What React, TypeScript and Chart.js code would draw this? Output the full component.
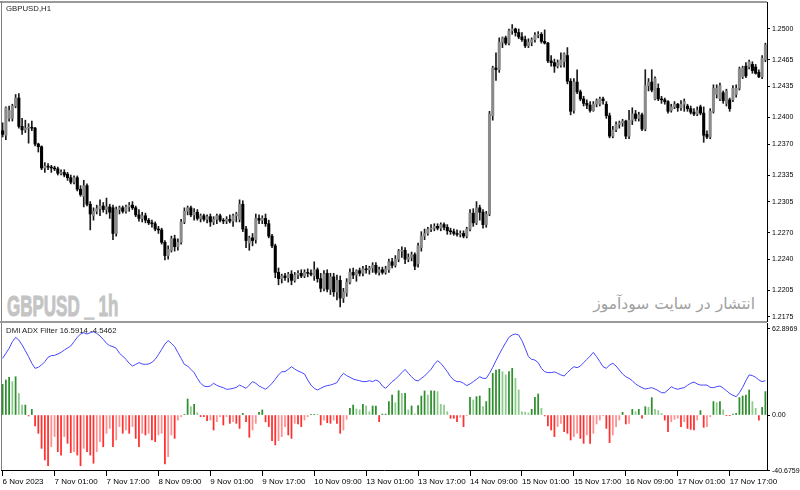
import React, { useEffect, useRef } from 'react';
import { Chart, registerables } from 'chart.js';
Chart.register(...registerables);

const tickLabels = ['6 Nov 2023', '7 Nov 01:00', '7 Nov 17:00', '8 Nov 09:00', '9 Nov 01:00', '9 Nov 17:00', '10 Nov 09:00', '13 Nov 01:00', '13 Nov 17:00', '14 Nov 09:00', '15 Nov 01:00', '15 Nov 17:00', '16 Nov 09:00', '17 Nov 01:00', '17 Nov 17:00'];
const priceTicks = [1.2175, 1.2205, 1.2240, 1.2270, 1.2305, 1.2335, 1.2370, 1.2400, 1.2435, 1.2465, 1.2500];
const dmiTicks = [-40.6759, 0, 62.8969];

const openP = [
  1.2385,1.2380,1.2399,1.2399,1.2413,1.2422,1.2390,1.2386,1.2388,1.2389,
  1.2388,1.2370,1.2367,1.2343,1.2345,1.2344,1.2343,1.2342,1.2337,1.2338,
  1.2336,1.2332,1.2327,1.2332,1.2319,1.2311,1.2323,1.2302,1.2289,1.2294,
  1.2297,1.2300,1.2296,1.2299,1.2298,1.2269,1.2296,1.2298,1.2294,1.2299,
  1.2301,1.2298,1.2290,1.2286,1.2289,1.2284,1.2281,1.2280,1.2274,1.2273,
  1.2259,1.2244,1.2250,1.2263,1.2254,1.2259,1.2282,1.2294,1.2298,1.2290,
  1.2293,1.2286,1.2289,1.2285,1.2288,1.2282,1.2285,1.2289,1.2284,1.2283,
  1.2285,1.2283,1.2289,1.2285,1.2302,1.2274,1.2258,1.2264,1.2262,1.2286,
  1.2284,1.2286,1.2280,1.2266,1.2255,1.2225,1.2218,1.2221,1.2219,1.2223,
  1.2216,1.2222,1.2224,1.2221,1.2225,1.2224,1.2221,1.2228,1.2218,1.2207,
  1.2224,1.2206,1.2220,1.2203,1.2216,1.2196,1.2202,1.2214,1.2225,1.2222,
  1.2227,1.2224,1.2229,1.2228,1.2230,1.2233,1.2225,1.2228,1.2225,1.2228,
  1.2237,1.2233,1.2240,1.2249,1.2250,1.2240,1.2242,1.2245,1.2235,1.2253,
  1.2266,1.2269,1.2274,1.2275,1.2277,1.2275,1.2279,1.2276,1.2272,1.2271,
  1.2269,1.2268,1.2269,1.2266,1.2274,1.2292,1.2281,1.2298,1.2293,1.2279,
  1.2291,1.2402,1.2456,1.2454,1.2485,1.2490,1.2484,1.2498,1.2500,1.2496,
  1.2491,1.2488,1.2481,1.2485,1.2488,1.2493,1.2494,1.2486,1.2484,1.2464,
  1.2462,1.2458,1.2459,1.2463,1.2470,1.2441,1.2408,1.2440,1.2429,1.2421,
  1.2416,1.2414,1.2408,1.2415,1.2415,1.2421,1.2415,1.2402,1.2379,1.2386,
  1.2392,1.2394,1.2396,1.2379,1.2397,1.2404,1.2399,1.2403,1.2387,1.2436,
  1.2440,1.2421,1.2433,1.2421,1.2420,1.2418,1.2408,1.2412,1.2415,1.2411,
  1.2415,1.2413,1.2410,1.2406,1.2404,1.2412,1.2405,1.2381,1.2378,1.2407,
  1.2426,1.2421,1.2428,1.2416,1.2420,1.2420,1.2426,1.2433,1.2446,1.2458,
  1.2457,1.2460,1.2457,1.2451,1.2446,1.2465
];
const highP = [
  1.2394,1.2412,1.2413,1.2415,1.2426,1.2427,1.2399,1.2397,1.2393,1.2396,
  1.2389,1.2371,1.2368,1.2349,1.2348,1.2346,1.2345,1.2344,1.2341,1.2341,
  1.2338,1.2335,1.2334,1.2334,1.2323,1.2329,1.2325,1.2305,1.2298,1.2301,
  1.2307,1.2304,1.2309,1.2302,1.2301,1.2299,1.2300,1.2300,1.2301,1.2304,
  1.2305,1.2300,1.2296,1.2293,1.2292,1.2286,1.2284,1.2282,1.2277,1.2275,
  1.2261,1.2255,1.2266,1.2267,1.2263,1.2285,1.2298,1.2300,1.2300,1.2297,
  1.2296,1.2291,1.2291,1.2290,1.2291,1.2288,1.2291,1.2291,1.2286,1.2288,
  1.2290,1.2291,1.2293,1.2307,1.2306,1.2277,1.2266,1.2269,1.2291,1.2290,
  1.2289,1.2291,1.2284,1.2268,1.2257,1.2230,1.2223,1.2224,1.2225,1.2227,
  1.2225,1.2227,1.2228,1.2228,1.2229,1.2228,1.2237,1.2230,1.2224,1.2227,
  1.2228,1.2224,1.2224,1.2222,1.2221,1.2207,1.2218,1.2229,1.2230,1.2228,
  1.2230,1.2232,1.2233,1.2232,1.2236,1.2236,1.2231,1.2231,1.2232,1.2240,
  1.2241,1.2244,1.2251,1.2254,1.2253,1.2246,1.2248,1.2247,1.2258,1.2271,
  1.2274,1.2276,1.2279,1.2280,1.2280,1.2281,1.2281,1.2279,1.2275,1.2274,
  1.2273,1.2272,1.2272,1.2276,1.2296,1.2297,1.2305,1.2301,1.2296,1.2294,
  1.2407,1.2458,1.2473,1.2490,1.2491,1.2492,1.2500,1.2505,1.2501,1.2500,
  1.2496,1.2492,1.2489,1.2490,1.2496,1.2497,1.2496,1.2499,1.2485,1.2470,
  1.2466,1.2465,1.2473,1.2473,1.2479,1.2444,1.2444,1.2454,1.2431,1.2424,
  1.2420,1.2418,1.2418,1.2421,1.2423,1.2423,1.2418,1.2405,1.2390,1.2395,
  1.2396,1.2398,1.2397,1.2408,1.2411,1.2408,1.2406,1.2405,1.2454,1.2444,
  1.2454,1.2446,1.2438,1.2424,1.2422,1.2419,1.2415,1.2418,1.2416,1.2419,
  1.2421,1.2415,1.2413,1.2410,1.2412,1.2414,1.2412,1.2385,1.2410,1.2437,
  1.2437,1.2439,1.2430,1.2432,1.2422,1.2436,1.2437,1.2457,1.2458,1.2462,
  1.2465,1.2463,1.2460,1.2454,1.2470,1.2484
];
const lowP = [
  1.2378,1.2375,1.2396,1.2396,1.2411,1.2388,1.2381,1.2383,1.2371,1.2385,
  1.2368,1.2361,1.2341,1.2338,1.2341,1.2338,1.2340,1.2335,1.2335,1.2333,
  1.2329,1.2325,1.2325,1.2317,1.2311,1.2299,1.2300,1.2273,1.2284,1.2291,
  1.2289,1.2293,1.2291,1.2286,1.2262,1.2266,1.2291,1.2292,1.2292,1.2294,
  1.2296,1.2288,1.2283,1.2282,1.2281,1.2279,1.2276,1.2272,1.2269,1.2257,
  1.2239,1.2240,1.2248,1.2249,1.2250,1.2257,1.2280,1.2290,1.2288,1.2284,
  1.2284,1.2282,1.2283,1.2281,1.2277,1.2279,1.2280,1.2282,1.2280,1.2280,
  1.2281,1.2277,1.2282,1.2282,1.2271,1.2253,1.2250,1.2255,1.2258,1.2280,
  1.2280,1.2277,1.2264,1.2253,1.2219,1.2211,1.2213,1.2216,1.2214,1.2211,
  1.2214,1.2218,1.2219,1.2219,1.2220,1.2221,1.2216,1.2214,1.2203,1.2204,
  1.2203,1.2200,1.2198,1.2194,1.2186,1.2191,1.2198,1.2212,1.2218,1.2215,
  1.2221,1.2221,1.2224,1.2223,1.2225,1.2223,1.2222,1.2223,1.2223,1.2225,
  1.2230,1.2231,1.2237,1.2242,1.2235,1.2237,1.2238,1.2228,1.2231,1.2249,
  1.2262,1.2267,1.2271,1.2272,1.2273,1.2272,1.2273,1.2268,1.2268,1.2267,
  1.2266,1.2265,1.2264,1.2264,1.2272,1.2277,1.2279,1.2284,1.2275,1.2276,
  1.2289,1.2397,1.2442,1.2451,1.2479,1.2482,1.2482,1.2494,1.2492,1.2489,
  1.2486,1.2479,1.2479,1.2481,1.2485,1.2490,1.2484,1.2483,1.2462,1.2458,
  1.2451,1.2456,1.2457,1.2457,1.2438,1.2403,1.2405,1.2427,1.2419,1.2413,
  1.2410,1.2406,1.2407,1.2412,1.2413,1.2415,1.2399,1.2377,1.2377,1.2384,
  1.2388,1.2390,1.2376,1.2376,1.2392,1.2396,1.2396,1.2385,1.2385,1.2430,
  1.2429,1.2420,1.2419,1.2416,1.2415,1.2405,1.2406,1.2410,1.2407,1.2408,
  1.2407,1.2407,1.2404,1.2402,1.2402,1.2403,1.2372,1.2376,1.2376,1.2405,
  1.2422,1.2419,1.2416,1.2413,1.2407,1.2418,1.2423,1.2431,1.2444,1.2445,
  1.2455,1.2450,1.2449,1.2445,1.2444,1.2463
];
const closeP = [
  1.2381,1.2411,1.2408,1.2413,1.2422,1.2390,1.2386,1.2388,1.2389,1.2388,
  1.2370,1.2367,1.2343,1.2345,1.2344,1.2343,1.2342,1.2337,1.2338,1.2335,
  1.2332,1.2327,1.2332,1.2319,1.2313,1.2323,1.2302,1.2291,1.2294,1.2297,
  1.2300,1.2296,1.2299,1.2293,1.2269,1.2296,1.2298,1.2294,1.2299,1.2301,
  1.2298,1.2290,1.2286,1.2289,1.2284,1.2281,1.2280,1.2274,1.2273,1.2259,
  1.2244,1.2251,1.2263,1.2254,1.2259,1.2282,1.2294,1.2298,1.2290,1.2293,
  1.2286,1.2289,1.2285,1.2288,1.2282,1.2285,1.2289,1.2284,1.2283,1.2285,
  1.2283,1.2289,1.2291,1.2302,1.2274,1.2261,1.2264,1.2261,1.2286,1.2284,
  1.2286,1.2280,1.2266,1.2255,1.2225,1.2218,1.2221,1.2219,1.2223,1.2216,
  1.2222,1.2224,1.2221,1.2225,1.2224,1.2223,1.2228,1.2218,1.2207,1.2223,
  1.2206,1.2220,1.2203,1.2216,1.2196,1.2203,1.2214,1.2225,1.2222,1.2227,
  1.2224,1.2229,1.2228,1.2230,1.2233,1.2225,1.2228,1.2225,1.2229,1.2237,
  1.2233,1.2240,1.2249,1.2250,1.2240,1.2242,1.2245,1.2232,1.2255,1.2266,
  1.2269,1.2274,1.2275,1.2277,1.2275,1.2279,1.2276,1.2272,1.2271,1.2269,
  1.2268,1.2269,1.2266,1.2274,1.2292,1.2281,1.2298,1.2293,1.2279,1.2291,
  1.2404,1.2456,1.2454,1.2485,1.2490,1.2484,1.2498,1.2500,1.2496,1.2491,
  1.2488,1.2481,1.2485,1.2488,1.2493,1.2494,1.2486,1.2484,1.2464,1.2462,
  1.2458,1.2462,1.2465,1.2472,1.2441,1.2407,1.2440,1.2429,1.2421,1.2416,
  1.2414,1.2408,1.2415,1.2419,1.2421,1.2419,1.2402,1.2379,1.2386,1.2392,
  1.2394,1.2396,1.2379,1.2397,1.2404,1.2399,1.2403,1.2387,1.2436,1.2440,
  1.2431,1.2444,1.2421,1.2420,1.2418,1.2407,1.2412,1.2415,1.2411,1.2415,
  1.2418,1.2410,1.2406,1.2404,1.2408,1.2405,1.2380,1.2378,1.2407,1.2433,
  1.2433,1.2436,1.2419,1.2430,1.2410,1.2433,1.2433,1.2455,1.2456,1.2447,
  1.2463,1.2453,1.2450,1.2446,1.2467,1.2482
];

const adxLine = [
  41.4,45.1,48.8,53.6,56.8,54.8,51.2,47.0,42.7,37.8,
  34.1,34.9,36.6,39.0,42.2,43.4,43.6,44.6,45.8,47.5,
  49.0,50.5,53.6,56.8,59.2,60.2,59.2,60.2,60.9,59.7,
  57.8,55.3,52.4,50.7,50.0,48.8,45.1,43.1,40.7,37.8,
  35.8,37.0,38.3,37.3,37.0,37.3,38.5,40.7,44.1,48.0,
  51.9,54.4,52.4,50.0,45.6,41.4,37.0,35.8,33.4,31.0,
  26.8,23.2,21.2,20.7,21.2,23.2,21.7,20.7,20.0,18.8,
  19.0,19.5,20.2,21.9,20.7,19.5,21.9,24.4,23.2,21.2,
  20.0,18.8,20.7,23.2,26.1,29.3,31.7,31.7,33.4,35.3,
  33.6,32.2,31.2,30.0,25.6,21.9,19.5,18.3,19.5,20.7,
  21.5,21.9,22.7,23.7,27.6,30.5,28.8,27.6,26.3,25.6,
  25.1,24.4,24.4,25.1,24.4,25.6,24.4,21.2,19.5,21.9,
  24.4,26.1,28.5,31.0,33.4,30.5,28.0,25.6,24.9,26.8,
  28.5,31.0,33.4,37.0,39.7,37.8,34.9,31.7,28.0,25.6,
  24.4,24.4,23.2,21.5,22.7,24.4,26.1,28.0,26.8,26.8,
  30.5,34.9,39.7,44.4,48.8,52.9,56.8,58.5,59.2,58.5,
  54.4,48.8,42.7,40.7,40.2,38.3,34.1,31.7,31.0,31.0,
  31.5,30.5,29.3,28.5,31.0,33.4,35.3,34.6,35.8,38.3,
  40.7,43.1,45.8,42.7,39.0,35.3,34.1,36.6,37.8,35.8,
  32.9,30.0,28.0,26.8,25.1,22.7,21.2,20.0,19.0,19.5,
  20.0,19.0,17.8,16.3,16.3,18.3,20.7,19.5,18.8,19.5,
  20.0,21.7,23.2,24.1,22.7,21.9,21.9,21.9,20.2,20.0,
  20.7,21.2,19.7,17.8,15.8,14.4,13.4,16.3,20.2,25.1,
  29.3,28.8,27.6,25.6,24.4,25.1
];
const dmiHist = [
  22.4,25.6,27.5,24.4,28.0,15.8,7.3,7.3,-0.7,4.1,
  -8.0,-13.4,-24.4,-32.9,-37.1,-23.2,-15.8,-26.8,-29.3,-15.8,
  -20.7,-27.5,-26.8,-29.3,-37.1,-24.4,-26.8,-29.3,-35.3,-26.8,
  -19.5,-23.2,-13.4,-9.8,-23.2,-18.3,-8.5,-13.4,-11.0,-13.4,
  -8.5,-17.1,-23.2,-13.4,-14.6,-13.4,-18.3,-19.5,-14.6,-13.4,
  -35.8,-30.5,-14.6,-17.1,-3.7,-1.2,0.5,11.7,6.1,7.8,
  1.7,-1.2,-1.2,-4.1,-3.7,-11.0,-4.9,-1.2,-7.3,-1.2,
  -6.1,-4.9,-6.1,-9.8,1.2,-4.9,-16.3,-11.0,-6.1,2.0,
  3.7,-5.0,-8.5,-18.8,-21.9,-18.8,-15.8,-8.5,-14.6,-17.1,
  -6.1,-6.6,-8.5,-3.7,-1.2,0.5,0.5,0.2,-7.3,-3.7,
  -5.6,-6.1,-3.7,-6.1,-13.4,-11.0,-3.2,4.9,7.3,4.4,
  3.7,7.8,6.6,2.4,6.6,6.6,-4.9,0.7,0.7,9.8,
  14.6,9.0,17.8,15.8,15.8,3.7,6.6,0.7,6.8,13.9,
  17.6,14.6,17.6,17.6,17.1,7.8,7.3,2.4,-2.4,-2.4,
  -4.9,-1.7,-8.5,-0.5,12.9,11.0,13.4,13.9,6.1,9.8,
  19.5,30.5,32.9,33.4,31.7,29.3,31.7,34.1,26.8,18.3,
  2.4,2.0,1.5,4.1,12.9,15.4,4.9,-0.7,-8.0,-11.0,
  -15.8,-8.5,-6.1,-12.2,-13.4,-18.3,-15.8,-13.4,-17.1,-20.7,
  -14.6,-20.7,-13.4,-6.6,-3.7,-0.3,-9.8,-20.2,-14.6,-8.5,
  -3.7,2.0,-6.6,-6.1,4.1,2.4,4.1,-2.4,6.1,5.6,
  12.7,4.1,3.2,1.2,-3.7,-12.2,-4.9,-3.2,-2.4,-8.5,
  -4.9,-9.8,-10.5,-11.0,-3.7,3.2,-9.0,-8.5,-1.2,9.8,
  9.0,9.8,3.7,-0.5,-0.5,0.7,1.2,12.7,13.9,14.6,
  18.3,9.8,4.9,-3.7,5.6,17.1
];

const FONT = '"Liberation Sans", Arial, sans-serif';

export default function App() {
  const mainRef = useRef<HTMLCanvasElement | null>(null);
  const dmiRef = useRef<HTMLCanvasElement | null>(null);

  useEffect(() => {
    const barLabels = closeP.map((_, i) => (i % 16 === 0 ? tickLabels[i / 16] ?? '' : ''));
    const bull = openP.map((o, i) => closeP[i] >= o);

    const main = new Chart(mainRef.current as HTMLCanvasElement, {
      type: 'bar',
      data: {
        labels: barLabels,
        datasets: [
          {
            label: 'body',
            data: openP.map((o, i) => [o, closeP[i]]) as any,
            backgroundColor: bull.map((b) => (b ? '#8a8a8a' : '#000000')),
            borderWidth: 0,
            barThickness: 2.4,
            grouped: false,
          } as any,
          {
            label: 'wick',
            data: lowP.map((l, i) => [l, highP[i]]) as any,
            backgroundColor: '#1a1a1a',
            borderWidth: 0,
            barThickness: 1,
            grouped: false,
          } as any,
        ],
      },
      options: {
        animation: false,
        responsive: false,
        maintainAspectRatio: false,
        layout: { padding: { left: 1, right: 0, top: 2, bottom: 1 } },
        plugins: { legend: { display: false }, tooltip: { enabled: false } },
        scales: {
          x: { display: false, offset: true, grid: { display: false } },
          y: {
            position: 'right',
            min: 1.21701,
            max: 1.25305,
            afterBuildTicks: (s: any) => {
              s.ticks = priceTicks.map((v) => ({ value: v }));
            },
            afterFit: (s: any) => {
              s.width = 33;
              s.paddingTop = 0;
              s.paddingBottom = 0;
            },
            ticks: {
              font: { family: FONT, size: 7 },
              color: '#000',
              padding: 2,
              callback: (v: any) => Number(v).toFixed(4),
            },
            grid: { drawOnChartArea: false, drawTicks: true, tickLength: 3, color: '#000' },
            border: { display: true, color: '#000' },
          },
        },
      } as any,
    });

    const histColors = dmiHist.map((v, i) => {
      const prev = i > 0 ? dmiHist[i - 1] : 0;
      const rising = Math.sign(v) !== Math.sign(prev) || Math.abs(v) >= Math.abs(prev);
      if (v >= 0) return rising ? '#2f8f2f' : '#8cc98c';
      return rising ? '#ff3030' : '#ff9090';
    });

    const dmi = new Chart(dmiRef.current as HTMLCanvasElement, {
      type: 'bar',
      data: {
        labels: barLabels,
        datasets: [
          {
            type: 'line',
            label: 'ADX',
            data: adxLine,
            borderColor: '#4646ff',
            borderWidth: 1,
            pointRadius: 0,
            tension: 0,
          } as any,
          {
            type: 'bar',
            label: 'DMI',
            data: dmiHist,
            backgroundColor: histColors,
            borderWidth: 0,
            barThickness: 1.1,
          } as any,
        ],
      },
      options: {
        animation: false,
        responsive: false,
        maintainAspectRatio: false,
        layout: { padding: { left: 1, right: 0, top: 1, bottom: 0 } },
        plugins: { legend: { display: false }, tooltip: { enabled: false } },
        scales: {
          x: {
            offset: true,
            afterBuildTicks: (s: any) => {
              s.ticks = s.ticks.filter((t: any) => t.value % 16 === 0);
            },
            afterFit: (s: any) => {
              s.height = 20;
              s.paddingLeft = 0;
              s.paddingRight = 0;
            },
            ticks: {
              autoSkip: false,
              maxRotation: 0,
              minRotation: 0,
              align: 'start',
              font: { family: FONT, size: 8 },
              color: '#000',
              padding: 1,
            },
            grid: { drawOnChartArea: false, drawTicks: true, tickLength: 6, color: '#000', offset: false },
            border: { display: true, color: '#000' },
          },
          y: {
            position: 'right',
            min: -40.22,
            max: 67.28,
            afterBuildTicks: (s: any) => {
              s.ticks = dmiTicks.map((v) => ({ value: v }));
            },
            afterFit: (s: any) => {
              s.width = 33;
              s.paddingTop = 0;
              s.paddingBottom = 0;
            },
            ticks: {
              font: { family: FONT, size: 7 },
              color: '#000',
              padding: 2,
              callback: (v: any) => (v === 0 ? '0.00' : String(v)),
            },
            grid: { drawOnChartArea: false, drawTicks: true, tickLength: 3, color: '#000' },
            border: { display: true, color: '#000' },
          },
        },
      } as any,
    });

    return () => {
      main.destroy();
      dmi.destroy();
    };
  }, []);

  return (
    <div style={{ position: 'fixed', left: 0, top: 0, width: 800, height: 490, background: '#fff', overflow: 'hidden' }}>
      <div style={{ position: 'absolute', left: 0, top: 1, width: 767, height: 2, background: '#9a9a9a' }} />
      <div style={{ position: 'absolute', left: 1, top: 1, width: 1, height: 469, background: '#808080' }} />
      <div style={{ position: 'absolute', left: 0, top: 321, width: 767, height: 2, background: '#9a9a9a' }} />
      <div
        style={{
          position: 'absolute', left: 7, top: 291, fontFamily: FONT, fontWeight: 'bold', fontSize: 29.3,
          lineHeight: '1', color: '#c4c4c4', whiteSpace: 'pre', transform: 'scaleX(0.58)', transformOrigin: 'left top',
          WebkitTextStroke: '1px #c4c4c4',
        }}
      >
        GBPUSD _ 1h
      </div>
      <div
        style={{
          position: 'absolute', right: 45, top: 296.5, fontFamily: '"DejaVu Sans", sans-serif', fontSize: 15.5,
          lineHeight: '1', color: '#a0a0a0', direction: 'rtl', whiteSpace: 'pre',
        }}
      >
        انتشار در سایت سودآموز
      </div>
      <canvas ref={mainRef} width={800} height={322} style={{ position: 'absolute', left: 0, top: 0, width: 800, height: 322 }} />
      <canvas ref={dmiRef} width={800} height={168} style={{ position: 'absolute', left: 0, top: 322, width: 800, height: 168 }} />
      <div style={{ position: 'absolute', left: 6, top: 5, fontFamily: FONT, fontSize: 7.8, lineHeight: '1', color: '#222', whiteSpace: 'pre' }}>
        GBPUSD,H1
      </div>
      <div style={{ position: 'absolute', left: 6, top: 327.4, fontFamily: FONT, fontSize: 7.8, lineHeight: '1', color: '#222', whiteSpace: 'pre' }}>
        DMI ADX Filter 16.5914 -4.5462
      </div>
    </div>
  );
}
